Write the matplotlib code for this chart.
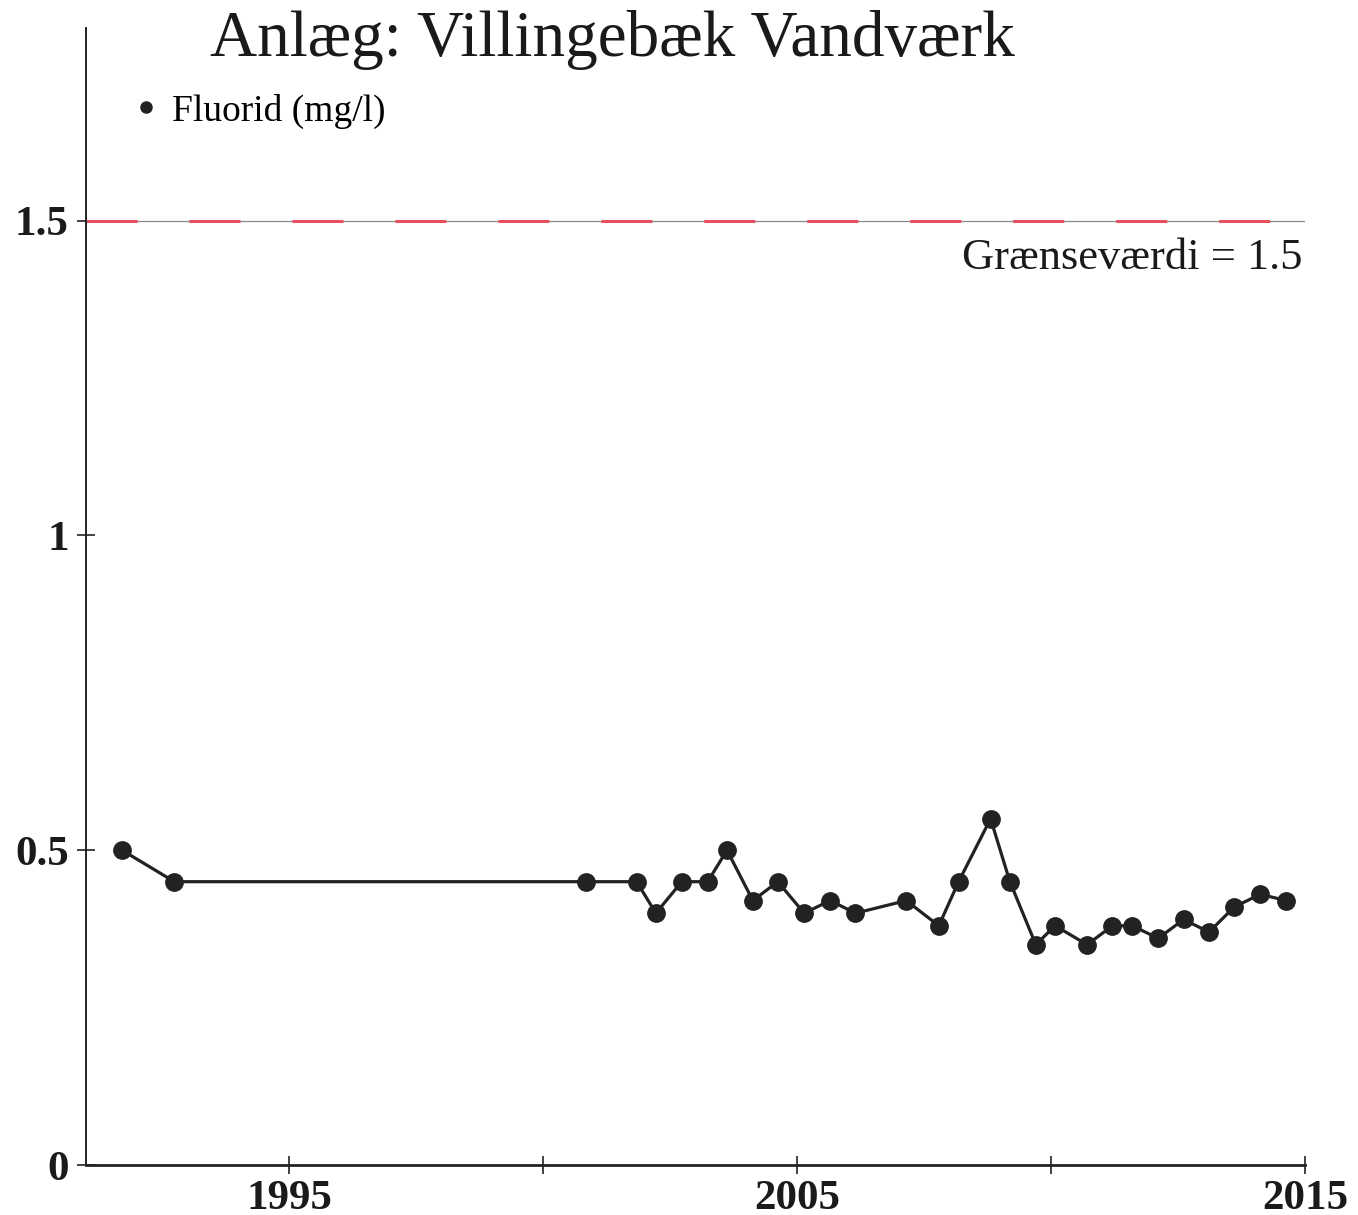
import matplotlib
matplotlib.use("Agg")
import matplotlib.pyplot as plt
from matplotlib.lines import Line2D

# Data (decimal years, fluoride mg/l)
years = [1991.71, 1992.74, 2000.85, 2001.84, 2002.22, 2002.73, 2003.24, 2003.62,
         2004.13, 2004.62, 2005.14, 2005.65, 2006.15, 2007.15, 2007.79, 2008.18,
         2008.81, 2009.19, 2009.70, 2010.08, 2010.71, 2011.21, 2011.60, 2012.11,
         2012.61, 2013.11, 2013.61, 2014.12, 2014.63]
fluorid = [0.50, 0.45, 0.45, 0.45, 0.40, 0.45, 0.45, 0.50,
           0.42, 0.45, 0.40, 0.42, 0.40, 0.42, 0.38, 0.45,
           0.55, 0.45, 0.35, 0.38, 0.35, 0.38, 0.38, 0.36,
           0.39, 0.37, 0.41, 0.43, 0.42]
limit_value = 1.5
x_ticks = [1995, 2000, 2005, 2010, 2015]
x_ticklabels = ["1995", "", "2005", "", "2015"]
y_ticks = [0, 0.5, 1, 1.5]
y_ticklabels = ["0", "0.5", "1", "1.5"]
title = "Anlæg: Villingebæk Vandværk"
series_label = "Fluorid (mg/l)"
limit_label = "Grænseværdi = 1.5"

plt.rcParams['font.family'] = ['Liberation Serif', 'DejaVu Serif']

W, H = 1358, 1215
fig = plt.figure(figsize=(W / 100, H / 100), dpi=100)
ax = fig.add_axes([86 / W, 1 - 1165 / H, (1305 - 86) / W, (1165 - 28) / H])

dark = "#222222"
ax.axhline(limit_value, color="#8a8a8a", lw=0.9, zorder=1)
ax.axhline(limit_value, color="#e8505f", lw=2.2, linestyle=(0, (16.7, 17.0)), zorder=2)

ax.plot(years, fluorid, color=dark, lw=2.3, marker="o", markersize=12.5, zorder=3)

ax.set_xlim(1991, 2015)
ax.set_ylim(0, 1.806)
ax.set_xticks(x_ticks)
ax.set_xticklabels(x_ticklabels)
ax.set_yticks(y_ticks)
ax.set_yticklabels(y_ticklabels)

for s in ["top", "right"]:
    ax.spines[s].set_visible(False)
ax.spines["left"].set_linewidth(1.4)
ax.spines["bottom"].set_linewidth(2.0)
ax.spines["left"].set_color(dark)
ax.spines["bottom"].set_color(dark)

ax.tick_params(axis="both", direction="inout", length=13, width=1.2, colors=dark,
               labelsize=31)
ax.tick_params(axis="x", pad=4)
ax.tick_params(axis="y", pad=6)
for lab in ax.get_xticklabels() + ax.get_yticklabels():
    lab.set_fontweight("bold")
    lab.set_color("#1a1a1a")

ax.annotate(limit_label, xy=(1.0, limit_value), xycoords=("axes fraction", "data"),
            xytext=(-2, -27), textcoords="offset points", ha="right", va="center",
            fontsize=32, color="#1a1a1a")

fig.text(612 / W, 1 - 40 / H, title, ha="center", va="center", fontsize=47, color="#1a1a1a")

handle = Line2D([], [], marker="o", ls="none", color=dark, markersize=8)
ax.legend([handle], [series_label], loc="center left",
          bbox_to_anchor=(135 / W, 1 - 111 / H), bbox_transform=fig.transFigure,
          frameon=False, fontsize=27, handlelength=0.6, handletextpad=0.4,
          borderpad=0, borderaxespad=0)

fig.savefig("out.png", dpi=100)
